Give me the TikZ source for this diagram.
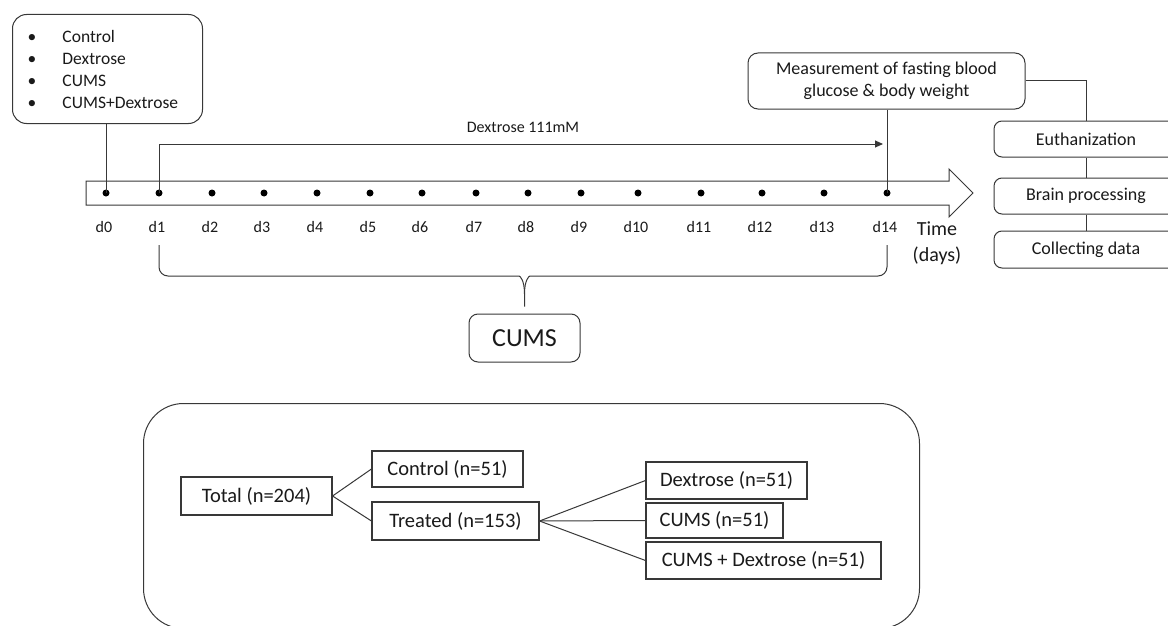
\documentclass[tikz,border=0pt]{standalone}
\usepackage{fontspec}
\setmainfont{Carlito}
\usetikzlibrary{arrows.meta,positioning,calc}
\definecolor{StudyLine}{HTML}{383838}
\definecolor{StudyText}{HTML}{1A1A1A}

\begin{document}
\begin{tikzpicture}[x=1pt,y=-1pt,
  link/.style={draw=StudyLine,line width=1pt},
  rbox/.style={draw=StudyLine,line width=1pt,rounded corners=8pt,inner sep=0pt,align=center,text=StudyText},
  sbox/.style={draw=StudyLine,line width=1.1pt,inner sep=0pt,text=StudyText,font=\fontsize{20.5}{24}\selectfont},
  stepbox/.style={rbox,minimum width=184pt,font=\fontsize{18}{21}\selectfont},
  dayDot/.style={circle,fill=black,inner sep=0pt,minimum size=7pt},
  dayLbl/.style={text=StudyText,font=\fontsize{16}{19}\selectfont},
]
\useasboundingbox (0,0) rectangle (1168,626);
\clip (0,0) rectangle (1168,626);
\fill[white] (0,0) rectangle (1168,626);

\draw[link,fill=white] (86,181) -- (949,181) -- (949,169) -- (973,193) -- (949,217) -- (949,205) -- (86,205) -- cycle;
\foreach \x [count=\i from 0] in {106,159,212,264,317,370,422,476,528,581,638,701,762,824,887} {
  \node[dayDot] (d\i) at (\x,193) {};
  \node[dayLbl] (l\i) at (\x-2,227) {d\i};
}
\node[text=StudyText,font=\fontsize{20}{26}\selectfont,align=center] (time) at (937,243) {Time\\(days)};

\node[rbox,rounded corners=14pt,anchor=north west,minimum width=190pt,minimum height=109pt,
  text width=160pt,align=left,font=\fontsize{17.5}{22}\selectfont] (groups) at (12,14)
  {\makebox[35pt][l]{\textbullet}Control\\
   \makebox[35pt][l]{\textbullet}Dextrose\\
   \makebox[35pt][l]{\textbullet}CUMS\\
   \makebox[35pt][l]{\textbullet}CUMS+Dextrose};
\node[rbox,rounded corners=10pt,minimum width=277pt,minimum height=56pt,font=\fontsize{18}{22}\selectfont] (meas) at (886.5,81)
  {Measurement of fasting blood\\glucose \& body weight};
\node[stepbox,minimum height=36pt] (euth) at (1086,139) {Euthanization};
\node[stepbox,minimum height=36pt,below=20pt of euth] (brain) {Brain processing};
\node[stepbox,minimum height=37pt,below=16pt of brain] (collect) {Collecting data};

\coordinate (dexend) at (883,144);
\node[dayLbl] (dexlbl) at (523,127) {Dextrose 111mM};
\draw[link] (d0 |- groups.south) -- (d0.center);
\draw[link,-{Triangle[length=8pt,width=7pt]}] (d1.center) |- (dexend);
\draw[link] (d14 |- meas.south) -- (d14.center);
\draw[link] (meas.east) -| (euth.north);
\draw[link] (euth) -- (brain);
\draw[link] (brain) -- (collect);

\node[rbox,rounded corners=9pt,minimum width=111pt,minimum height=48pt,font=\fontsize{26}{30}\selectfont] (cums) at (524.5,338) {CUMS};
\coordinate (bl) at ($(d1)+(0,52)$);
\coordinate (br) at ($(d14)+(0,52)$);
\coordinate (btip) at ($(cums.north)+(0,-7)$);
\draw[link] (bl) [rounded corners=9pt] -- ($(bl)+(0,31)$) -- (510,276) [sharp corners]
  .. controls (520,276) and (524.5,280) .. (524.5,294) -- (btip);
\draw[link] (br) [rounded corners=9pt] -- ($(br)+(0,31)$) -- (539,276) [sharp corners]
  .. controls (529,276) and (524.5,280) .. (524.5,294);

\node[draw=StudyLine,line width=1pt,rounded corners=40pt,anchor=north west,inner sep=0pt,
  minimum width=776pt,minimum height=225pt] (panel) at (143,403) {};
\node[sbox,minimum width=151pt,minimum height=38pt] (total) at (256.5,496) {Total (n=204)};
\node[sbox,minimum width=151pt,minimum height=36pt] (ctrl) at (447.5,469) {Control (n=51)};
\node[sbox,minimum width=167pt,minimum height=38pt] (treated) at (455.5,521) {Treated (n=153)};
\node[sbox,minimum width=161pt,minimum height=37pt] (dex) at (726.5,480.5) {Dextrose (n=51)};
\node[sbox,minimum width=137pt,minimum height=35pt] (cumsn) at (714.5,520.5) {CUMS (n=51)};
\node[sbox,minimum width=235pt,minimum height=37pt] (cumsdex) at (763.5,560.5) {CUMS + Dextrose (n=51)};
\draw[link] (total.east) -- (ctrl.west);
\draw[link] (total.east) -- (treated.west);
\draw[link] (treated.east) -- (dex.west);
\draw[link] (treated.east) -- (cumsn.west);
\draw[link] (treated.east) -- (cumsdex.west);
\end{tikzpicture}
\end{document}
